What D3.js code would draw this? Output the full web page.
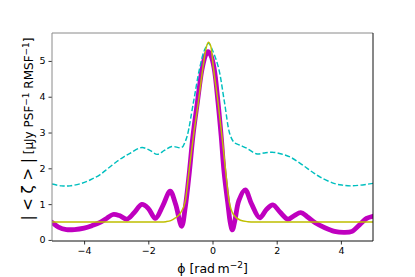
<!DOCTYPE html>
<html>
<head>
<meta charset="utf-8">
<script src="https://cdn.jsdelivr.net/npm/d3@7"></script>
<style>
  body { margin: 0; background: #fff; }
  text { font-family: "DejaVu Sans", sans-serif; }
</style>
</head>
<body>
<svg id="chart" width="415" height="277"></svg>
<script>
// values
const xTicks = [-4, -2, 0, 2, 4];
const yTicks = [0, 1, 2, 3, 4, 5];

// thick magenta curve
const magentaPhi = [-5.0, -4.8, -4.55, -4.3, -4.0, -3.75, -3.5, -3.3, -3.1, -2.9, -2.67, -2.45, -2.2, -2.0, -1.78, -1.55, -1.32, -1.15, -0.96,
  -0.85, -0.72, -0.61, -0.47, -0.33, -0.22, -0.14, -0.05, 0.05, 0.17, 0.27, 0.36, 0.48, 0.56, 0.62, 0.70, 0.82, 1.02, 1.22, 1.47,
  1.68, 1.88, 2.1, 2.35, 2.55, 2.75, 2.95, 3.2, 3.5, 3.8, 4.1, 4.35, 4.6, 4.8, 5.0];
const magentaVal = [0.49, 0.36, 0.29, 0.29, 0.33, 0.40, 0.49, 0.60, 0.71, 0.68, 0.58, 0.75, 0.99, 0.88, 0.60, 0.95, 1.36, 1.0, 0.38,
  0.9, 1.9, 2.9, 3.85, 4.75, 5.15, 5.26, 5.15, 4.8, 3.86, 2.9, 1.9, 1.0, 0.45, 0.28, 0.55, 1.1, 1.40, 1.0, 0.62,
  0.85, 0.98, 0.78, 0.58, 0.68, 0.76, 0.65, 0.48, 0.34, 0.24, 0.21, 0.24, 0.44, 0.60, 0.66];

// yellow (gaussian-like) curve
const yellowPhi = [-5.0, -3.0, -1.6, -1.45, -1.3, -1.15, -1.0, -0.85, -0.72, -0.59, -0.44, -0.30, -0.2, -0.13, -0.05, 0.03, 0.17, 0.29,
  0.40, 0.52, 0.66, 0.87, 1.1, 1.3, 3.0, 5.0];
const yellowVal = [0.5, 0.5, 0.5, 0.51, 0.54, 0.62, 0.75, 1.07, 2.0, 2.93, 3.86, 4.8, 5.35, 5.52, 5.4, 4.8, 3.86, 2.93,
  2.0, 1.07, 0.70, 0.55, 0.51, 0.5, 0.5, 0.5];

// cyan dashed curve
const cyanPhi = [-5.0, -4.7, -4.44, -4.08, -3.8, -3.51, -3.25, -2.98, -2.75, -2.57, -2.2, -1.95, -1.72, -1.5, -1.27, -0.96, -0.85, -0.78,
  -0.59, -0.40, -0.25, -0.12, 0.0, 0.19, 0.37, 0.55, 0.68, 0.85, 1.07, 1.39, 1.6, 1.86, 2.15, 2.43, 2.7, 2.95, 3.17, 3.37, 3.78,
  4.05, 4.3, 4.6, 5.0];
const cyanVal = [1.56, 1.51, 1.51, 1.58, 1.68, 1.82, 2.0, 2.19, 2.33, 2.42, 2.58, 2.50, 2.39, 2.5, 2.61, 2.58, 2.75, 2.93,
  3.86, 4.8, 5.3, 5.49, 5.3, 4.8, 3.86, 2.93, 2.72, 2.65, 2.56, 2.40, 2.43, 2.45, 2.40, 2.31, 2.16, 2.0, 1.86, 1.75, 1.58,
  1.53, 1.51, 1.53, 1.58];

const plot = { left: 52, right: 373, top: 33, bottom: 241 };

const svg = d3.select("#chart");

const x = d3.scaleLinear().domain([-5, 5]).range([plot.left, plot.right]);
const y = d3.scaleLinear().domain([-0.03, 5.78]).range([plot.bottom, plot.top]);

svg.append("defs").append("clipPath").attr("id", "clip")
  .append("rect")
  .attr("x", plot.left).attr("y", plot.top)
  .attr("width", plot.right - plot.left).attr("height", plot.bottom - plot.top);

const zip = (xs, ys) => xs.map((d, i) => [d, ys[i]]);

const lineCR = d3.line().x(d => x(d[0])).y(d => y(d[1])).curve(d3.curveCatmullRom.alpha(0.5));
const lineMono = d3.line().x(d => x(d[0])).y(d => y(d[1])).curve(d3.curveMonotoneX);

const g = svg.append("g").attr("clip-path", "url(#clip)");

g.append("path")
  .attr("d", lineCR(zip(magentaPhi, magentaVal)))
  .attr("fill", "none")
  .attr("stroke", "#bf00bf")
  .attr("stroke-width", 4.8)
  .attr("stroke-linejoin", "round")
  .attr("stroke-linecap", "round");

g.append("path")
  .attr("d", lineCR(zip(cyanPhi, cyanVal)))
  .attr("fill", "none")
  .attr("stroke", "#00bfbf")
  .attr("stroke-width", 1.45)
  .attr("stroke-dasharray", "5.3,2.3");

g.append("path")
  .attr("d", lineMono(zip(yellowPhi, yellowVal)))
  .attr("fill", "none")
  .attr("stroke", "#bfbf00")
  .attr("stroke-width", 1.45);

// axes
const minus = d => d < 0 ? "\u2212" + Math.abs(d) : String(d);

const xAxis = svg.append("g")
  .attr("transform", `translate(0,${plot.bottom})`)
  .call(d3.axisBottom(x).tickValues(xTicks).tickSize(3.5).tickPadding(3).tickFormat(minus));
xAxis.select(".domain").remove();
xAxis.selectAll("line").attr("stroke", "#000").attr("stroke-width", 0.8);
xAxis.selectAll("text").attr("font-size", 9.5).attr("fill", "#000").attr("font-family", "DejaVu Sans");

const yAxis = svg.append("g")
  .attr("transform", `translate(${plot.left},0)`)
  .call(d3.axisLeft(y).tickValues(yTicks).tickSize(3.5).tickPadding(3).tickFormat(minus));
yAxis.select(".domain").remove();
yAxis.selectAll("line").attr("stroke", "#000").attr("stroke-width", 0.8);
yAxis.selectAll("text").attr("font-size", 9.5).attr("fill", "#000").attr("font-family", "DejaVu Sans");

// frame
const frame = svg.append("g").attr("fill", "none").attr("stroke-width", 1);
frame.append("line").attr("x1", plot.left).attr("x2", plot.right).attr("y1", plot.top).attr("y2", plot.top).attr("stroke", "#8a8a8a");
frame.append("line").attr("x1", plot.left).attr("x2", plot.left).attr("y1", plot.top).attr("y2", plot.bottom).attr("stroke", "#8a8a8a");
frame.append("line").attr("x1", plot.right).attr("x2", plot.right).attr("y1", plot.top).attr("y2", plot.bottom).attr("stroke", "#111");
frame.append("line").attr("x1", plot.left).attr("x2", plot.right).attr("y1", plot.bottom).attr("y2", plot.bottom).attr("stroke", "#111");

// x label
const xl = svg.append("text")
  .attr("x", (plot.left + plot.right) / 2)
  .attr("y", 273)
  .attr("text-anchor", "middle")
  .attr("font-size", 12.5)
  .attr("fill", "#000");
xl.append("tspan").text("\u03d5 [rad\u2009m");
xl.append("tspan").attr("dy", -5).attr("font-size", 9).text("\u22122");
xl.append("tspan").attr("dy", 5).text("]");

// y label
const yl = svg.append("text")
  .attr("transform", "translate(33,129) rotate(-90)")
  .attr("text-anchor", "middle")
  .attr("fill", "#000")
  .attr("font-size", 12);
yl.append("tspan").attr("font-size", 15).text("| < \u03b6 > |");
yl.append("tspan").text("  [\u03bcJy PSF");
yl.append("tspan").attr("dy", -4.5).attr("font-size", 9).text("\u22121");
yl.append("tspan").attr("dy", 4.5).text(" RMSF");
yl.append("tspan").attr("dy", -4.5).attr("font-size", 9).text("\u22121");
yl.append("tspan").attr("dy", 4.5).text("]");
</script>
</body>
</html>
